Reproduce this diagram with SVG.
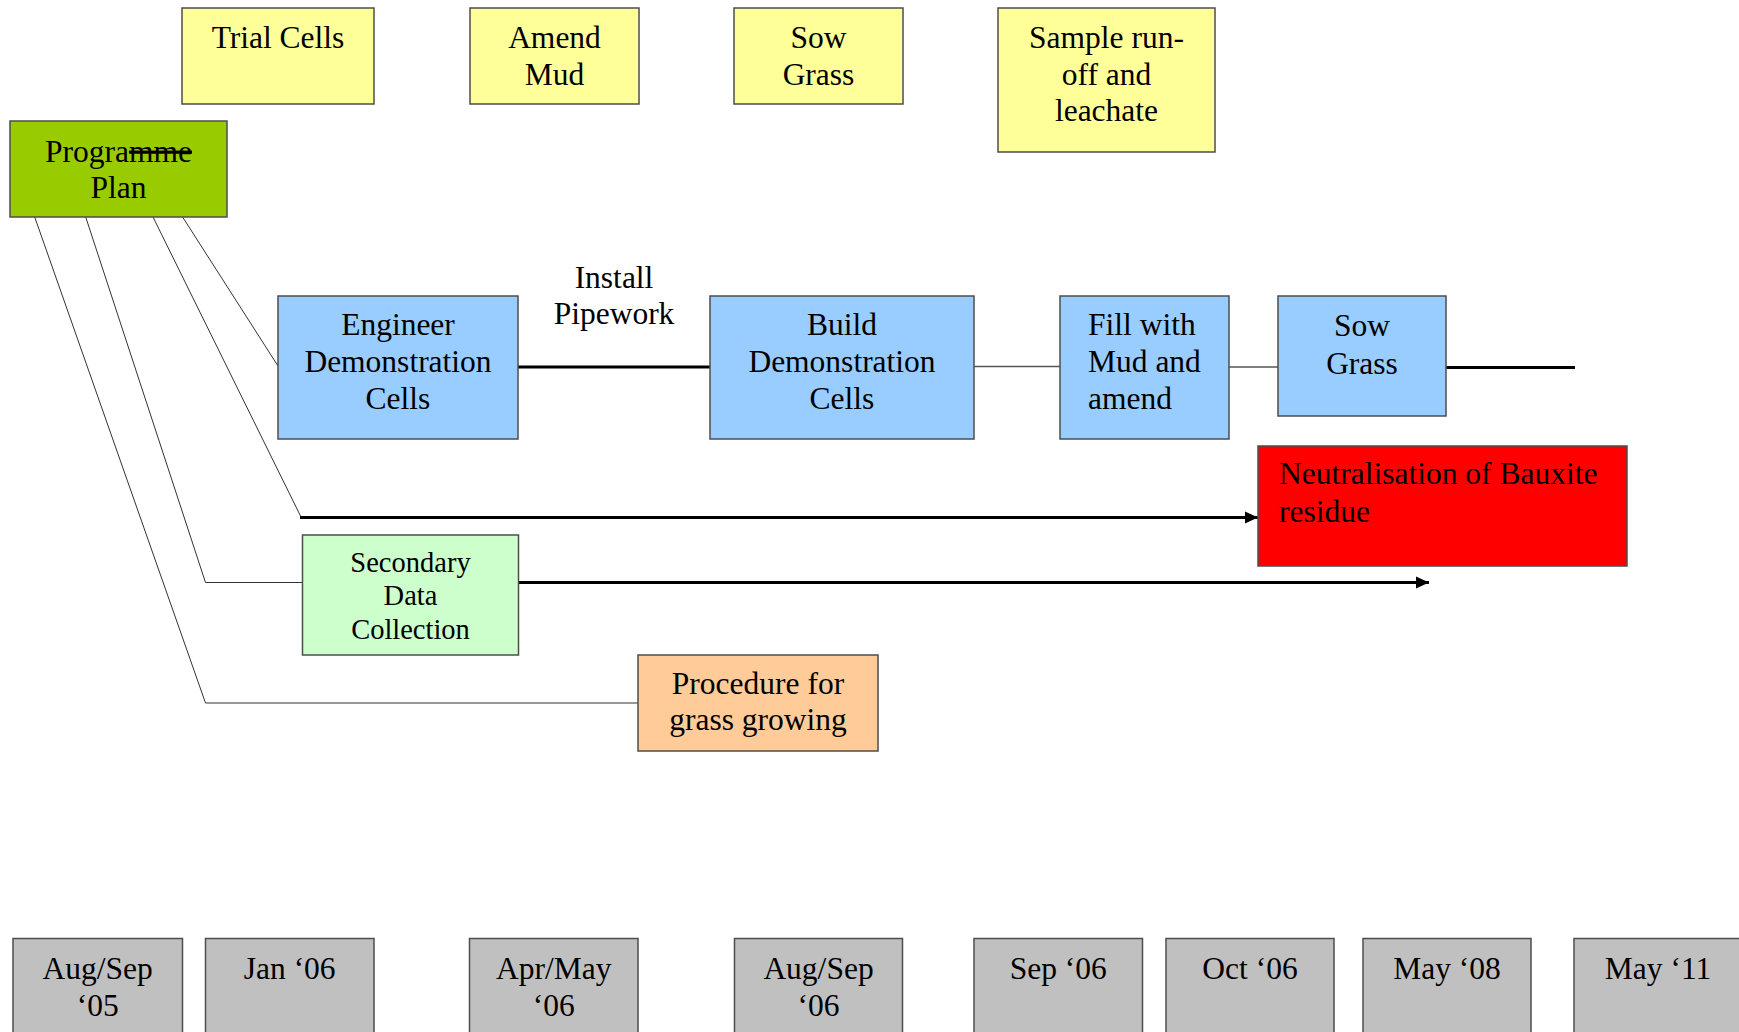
<svg xmlns="http://www.w3.org/2000/svg" width="1739" height="1032" viewBox="0 0 1739 1032">
<style>
  .box { stroke: #4d4d4d; stroke-width: 1.5; }
  .yel { fill: #FFFF99; }
  .blu { fill: #99CCFF; }
  .gry { fill: #C0C0C0; }
  text { font-family: "Liberation Serif", "Times New Roman", serif; font-size: 31.5px; fill: #000; }
  .c { text-anchor: middle; }
  .thin { stroke: #333; stroke-width: 1; fill: none; }
  .mid { stroke: #555; stroke-width: 1.5; fill: none; }
  .thick { stroke: #000; stroke-width: 2.8; fill: none; }
</style>
<defs>
  <marker id="arr" markerUnits="userSpaceOnUse" markerWidth="14" markerHeight="14" refX="13" refY="7" orient="auto">
    <path d="M0,1 L13,7 L0,13 Z" fill="#000"/>
  </marker>
</defs>
<rect width="1739" height="1032" fill="#fff"/>

<g id="connectors">
  <line class="thin" x1="182.6" y1="217" x2="278" y2="366"/>
  <polyline class="thin" points="153,217 301,517"/>
  <polyline class="thin" points="85.7,217 205.5,582.5 302.5,582.5"/>
  <polyline class="thin" points="34.7,217 205.5,703 638,703"/>
  <line class="thick" x1="300" y1="517.5" x2="1258" y2="517.5" marker-end="url(#arr)"/>
  <line class="thick" x1="518" y1="582.5" x2="1429" y2="582.5" marker-end="url(#arr)"/>
  <line class="thick" x1="518" y1="367" x2="710" y2="367"/>
  <line class="mid" x1="974" y1="366.5" x2="1060" y2="366.5"/>
  <line class="mid" x1="1229" y1="367" x2="1288" y2="367"/>
  <line class="thick" x1="1446" y1="367.5" x2="1575" y2="367.5"/>
</g>

<g id="trial-cells"><rect class="box yel" x="182" y="8" width="192" height="96"/>
  <text class="c" x="278" y="48">Trial Cells</text></g>
<g id="amend-mud"><rect class="box yel" x="470" y="8" width="169" height="96"/>
  <text class="c" x="554.5" y="48">Amend</text><text class="c" x="554.5" y="85">Mud</text></g>
<g id="sow-grass-top"><rect class="box yel" x="734" y="8" width="169" height="96"/>
  <text class="c" x="818.5" y="48">Sow</text><text class="c" x="818.5" y="85">Grass</text></g>
<g id="sample"><rect class="box yel" x="998" y="8" width="217" height="144"/>
  <text class="c" x="1106.5" y="48">Sample run-</text><text class="c" x="1106.5" y="84.5">off and</text><text class="c" x="1106.5" y="121">leachate</text></g>

<g id="programme-plan"><rect class="box" fill="#99CC00" x="10" y="121" width="217" height="96"/>
  <text class="c" x="118.5" y="161.5">Progra<tspan style="text-decoration: line-through">mme</tspan></text><text class="c" x="118.5" y="198">Plan</text></g>

<g id="engineer"><rect class="box blu" x="278" y="296" width="240" height="143"/>
  <text class="c" x="398" y="335">Engineer</text><text class="c" x="398" y="372">Demonstration</text><text class="c" x="398" y="408.5">Cells</text></g>
<g id="install-pipework">
  <text class="c" x="614" y="287.5">Install</text><text class="c" x="614" y="324">Pipework</text></g>
<g id="build"><rect class="box blu" x="710" y="296" width="264" height="143"/>
  <text class="c" x="842" y="335">Build</text><text class="c" x="842" y="372">Demonstration</text><text class="c" x="842" y="409">Cells</text></g>
<g id="fill"><rect class="box blu" x="1060" y="296" width="169" height="143"/>
  <text x="1088" y="335">Fill with</text><text x="1088" y="372">Mud and</text><text x="1088" y="409">amend</text></g>
<g id="sow-grass"><rect class="box blu" x="1278" y="296" width="168" height="120"/>
  <text class="c" x="1362" y="336">Sow</text><text class="c" x="1362" y="374">Grass</text></g>

<g id="neutralisation"><rect class="box" fill="#FF0000" x="1258" y="446" width="369" height="120"/>
  <text x="1279" y="484">Neutralisation of Bauxite</text><text x="1279" y="522">residue</text></g>

<g id="secondary"><rect class="box" fill="#CCFFCC" x="302.5" y="535" width="216" height="120"/>
  <text class="c" x="410.5" y="571.5" style="font-size:28.5px">Secondary</text><text class="c" x="410.5" y="605" style="font-size:28.5px">Data</text><text class="c" x="410.5" y="638.5" style="font-size:28.5px">Collection</text></g>

<g id="procedure"><rect class="box" fill="#FFCC99" x="638" y="655" width="240" height="96"/>
  <text class="c" x="758" y="693.5">Procedure for</text><text class="c" x="758" y="730">grass growing</text></g>

<g id="d1"><rect class="box gry" x="13" y="938.5" width="169.5" height="100"/>
  <text class="c" x="97.7" y="979">Aug/Sep</text><text class="c" x="97.7" y="1016">‘05</text></g>
<g id="d2"><rect class="box gry" x="205.5" y="938.5" width="168.5" height="100"/>
  <text class="c" x="289.7" y="979">Jan ‘06</text></g>
<g id="d3"><rect class="box gry" x="469.5" y="938.5" width="168.5" height="100"/>
  <text class="c" x="553.7" y="979">Apr/May</text><text class="c" x="553.7" y="1016">‘06</text></g>
<g id="d4"><rect class="box gry" x="734.5" y="938.5" width="168" height="100"/>
  <text class="c" x="818.5" y="979">Aug/Sep</text><text class="c" x="818.5" y="1016">‘06</text></g>
<g id="d5"><rect class="box gry" x="974" y="938.5" width="168.5" height="100"/>
  <text class="c" x="1058.2" y="979">Sep ‘06</text></g>
<g id="d6"><rect class="box gry" x="1166" y="938.5" width="168" height="100"/>
  <text class="c" x="1250" y="979">Oct ‘06</text></g>
<g id="d7"><rect class="box gry" x="1363" y="938.5" width="168" height="100"/>
  <text class="c" x="1447" y="979">May ‘08</text></g>
<g id="d8"><rect class="box gry" x="1574" y="938.5" width="168" height="100"/>
  <text class="c" x="1658" y="979">May ‘11</text></g>
</svg>
